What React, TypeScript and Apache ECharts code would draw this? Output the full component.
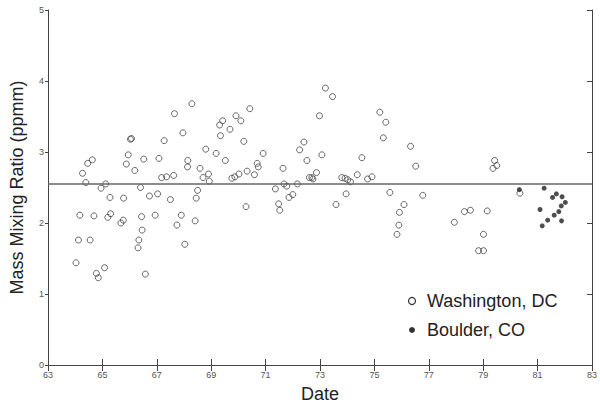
import React, { useEffect, useRef } from "react";
import * as echarts from "echarts";

const washingtonDate = [
  64.03, 64.12, 64.17, 64.27, 64.39, 64.46, 64.55, 64.63, 64.69, 64.78, 64.85, 64.95,
  65.08, 65.12, 65.2, 65.28, 65.3, 65.68, 65.77, 65.78, 65.88, 65.95, 66.03, 66.07,
  66.19, 66.31, 66.34, 66.4, 66.44, 66.46, 66.52, 66.58, 66.73, 66.94, 67.03, 67.08,
  67.18, 67.27, 67.36, 67.5, 67.62, 67.65, 67.74, 67.9, 67.96, 68.03, 68.13, 68.14,
  68.29, 68.41, 68.45, 68.5, 68.59, 68.7, 68.8, 68.9, 68.93, 69.18, 69.31, 69.34,
  69.42, 69.52, 69.69, 69.76, 69.87, 69.91, 70.02, 70.09, 70.2, 70.28, 70.32, 70.42,
  70.59, 70.69, 70.73, 70.91, 71.36, 71.48, 71.52, 71.64, 71.68, 71.78, 71.86, 72.0,
  72.17, 72.25, 72.41, 72.52, 72.61, 72.7, 72.74, 72.87, 72.98, 73.07, 73.2, 73.46,
  73.59, 73.8, 73.92, 73.96, 74.02, 74.12, 74.37, 74.54, 74.75, 74.91, 75.2, 75.33,
  75.42, 75.57, 75.83, 75.9, 75.92, 76.09, 76.33, 76.52, 76.78, 77.94, 78.31, 78.53,
  78.83, 79.01, 79.01, 79.15, 79.36, 79.42, 79.5, 80.35,
];
const washingtonRatio = [
  1.44, 1.76, 2.11, 2.7, 2.57, 2.84, 1.76, 2.89, 2.1, 1.29, 1.23, 2.49,
  1.37, 2.55, 2.08, 2.36, 2.13, 2.0, 2.04, 2.35, 2.83, 2.96, 3.18, 3.19,
  2.74, 1.65, 1.76, 2.5, 2.09, 1.9, 2.9, 1.28, 2.38, 2.11, 2.41, 2.91,
  2.64, 3.16, 2.65, 2.33, 2.67, 3.54, 1.97, 2.11, 3.27, 1.7, 2.79, 2.88,
  3.68, 2.03, 2.35, 2.46, 2.77, 2.64, 3.04, 2.69, 2.59, 2.98, 3.38, 3.23,
  3.44, 2.88, 3.32, 2.63, 2.65, 3.51, 2.69, 3.44, 3.15, 2.23, 2.73, 3.61,
  2.68, 2.84, 2.79, 2.98, 2.48, 2.27, 2.18, 2.77, 2.55, 2.52, 2.36, 2.4,
  2.55, 3.03, 3.14, 2.88, 2.64, 2.64, 2.62, 2.71, 3.51, 2.96, 3.9, 3.78,
  2.26, 2.64, 2.63, 2.41, 2.61, 2.58, 2.68, 2.92, 2.62, 2.65, 3.56, 3.2,
  3.42, 2.43, 1.84, 1.97, 2.15, 2.26, 3.08, 2.8, 2.39, 2.01, 2.16, 2.18,
  1.61, 1.61, 1.84, 2.17, 2.77, 2.88, 2.81, 2.42,
];
const boulderDate = [80.33, 81.09, 81.17, 81.24, 81.37, 81.55, 81.61, 81.69, 81.78, 81.87, 81.88, 81.9, 82.02];
const boulderRatio = [2.47, 2.19, 1.96, 2.49, 2.04, 2.36, 2.11, 2.41, 2.16, 2.24, 2.03, 2.37, 2.29];
const meanRatio = 2.55;
const seriesNames = ["Washington, DC", "Boulder, CO"];

const FONT = "'Liberation Sans', Arial, sans-serif";

export default function App() {
  const ref = useRef<HTMLDivElement>(null);
  useEffect(() => {
    if (!ref.current) return;
    const chart = echarts.init(ref.current, null, { renderer: "svg" });
    const wData = washingtonDate.map((d, i) => [d, washingtonRatio[i]]);
    const bData = boulderDate.map((d, i) => [d, boulderRatio[i]]);
    const axisLine = { show: true, lineStyle: { color: "#444", width: 1 } };
    chart.setOption({
      animation: false,
      backgroundColor: "#fff",
      grid: { left: 46, right: 5, top: 10, bottom: 40 },
      xAxis: [
        {
          type: "value",
          min: 63,
          max: 83,
          interval: 2,
          name: "Date",
          nameLocation: "middle",
          nameGap: 20,
          nameTextStyle: { fontFamily: FONT, fontSize: 18, color: "#222" },
          axisLine,
          axisTick: { show: true, inside: true, length: 6, lineStyle: { color: "#444" } },
          axisLabel: { fontFamily: FONT, fontSize: 9, color: "#555", margin: 5 },
          splitLine: { show: false },
        },
        {
          type: "value",
          position: "top",
          min: 63,
          max: 83,
          interval: 2,
          axisLine,
          axisTick: { show: true, inside: true, length: 6, lineStyle: { color: "#444" } },
          axisLabel: { show: false },
          splitLine: { show: false },
        },
      ],
      yAxis: [
        {
          type: "value",
          min: 0,
          max: 5,
          interval: 1,
          name: "Mass Mixing Ratio (ppmm)",
          nameLocation: "middle",
          nameGap: 22,
          nameTextStyle: { fontFamily: FONT, fontSize: 18, color: "#222" },
          axisLine,
          axisTick: { show: true, inside: false, length: 3, lineStyle: { color: "#444" } },
          axisLabel: { fontFamily: FONT, fontSize: 9, color: "#555", margin: 4 },
          splitLine: { show: false },
        },
        {
          type: "value",
          position: "right",
          min: 0,
          max: 5,
          interval: 1,
          axisLine,
          axisTick: { show: true, inside: true, length: 5, lineStyle: { color: "#444" } },
          axisLabel: { show: false },
          splitLine: { show: false },
        },
      ],
      series: [
        {
          name: seriesNames[0],
          type: "scatter",
          data: wData,
          symbol: "circle",
          symbolSize: 6,
          itemStyle: { color: "rgba(255,255,255,0)", borderColor: "#444", borderWidth: 1 },
          markLine: {
            silent: true,
            symbol: "none",
            label: { show: false },
            lineStyle: { color: "#666", width: 1.5, type: "solid" },
            data: [{ yAxis: meanRatio }],
          },
        },
        {
          name: seriesNames[1],
          type: "scatter",
          data: bData,
          symbol: "circle",
          symbolSize: 5,
          itemStyle: { color: "#222" },
        },
      ],
      graphic: [
        {
          type: "circle",
          shape: { cx: 412, cy: 301, r: 3.5 },
          style: { fill: "#fff", stroke: "#333", lineWidth: 1.2 },
        },
        {
          type: "text",
          x: 427,
          y: 301,
          style: { text: seriesNames[0], font: `18px ${FONT}`, fill: "#222", verticalAlign: "middle" },
        },
        {
          type: "circle",
          shape: { cx: 412, cy: 330, r: 3 },
          style: { fill: "#333" },
        },
        {
          type: "text",
          x: 427,
          y: 330,
          style: { text: seriesNames[1], font: `18px ${FONT}`, fill: "#222", verticalAlign: "middle" },
        },
      ],
    });
    return () => chart.dispose();
  }, []);
  return <div ref={ref} style={{ width: 600, height: 408, position: "absolute", left: 0, top: 0 }} />;
}
